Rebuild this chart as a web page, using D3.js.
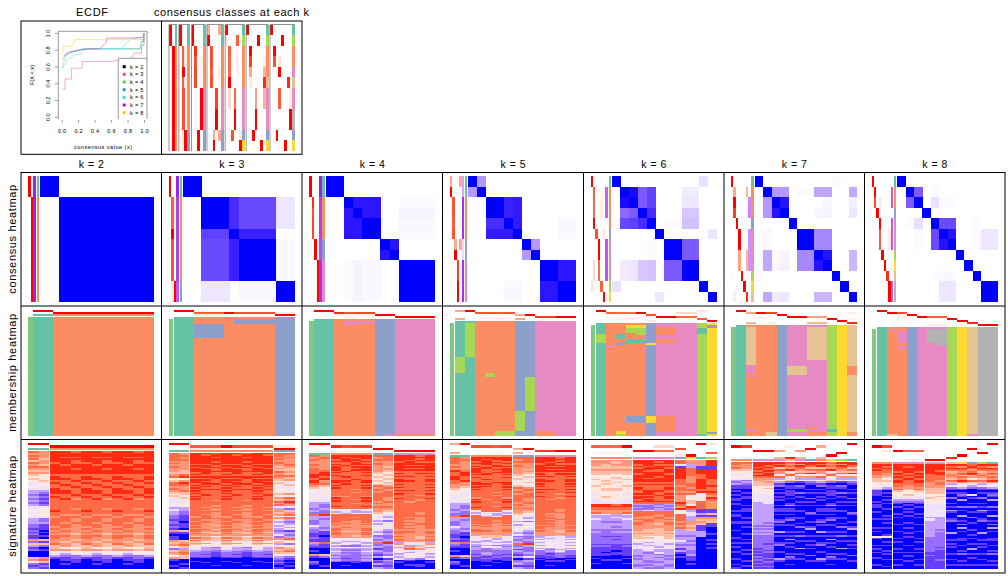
<!DOCTYPE html>
<html><head><meta charset="utf-8">
<script src="https://cdn.jsdelivr.net/npm/d3@7"></script>
<style>html,body{margin:0;background:#fff}svg{display:block}text{font-family:"Liberation Sans",Arial,sans-serif;fill:#000}</style>
</head><body><svg id="c" width="1008" height="576"></svg>
<script>
const kValues=[2,3,4,5,6,7,8];
const classColors=["#66C2A5","#FC8D62","#8DA0CB","#E78AC3","#A6D854","#FFD92F","#E5C494","#B3B3B3"];
const ecdfColors=["#000000","#DF536B","#61D04F","#2297E6","#28E2E5","#CD0BBC","#F5C710"];
const ecdfTicks=[0,0.2,0.4,0.6,0.8,1];
const ecdfK2=[[.98,.92],[1,.92]];
const ecdfK3=[[.01,.33],[.04,.33],[.04,.45],[.12,.45],[.12,.58],[.25,.58],[.25,.66],[.6,.66],[.85,.7],[.88,.76],[.97,.76],[.97,.85],[1,.85],[1,1]];
const ecdfK4=[[.01,.58],[.02,.64],[.06,.74],[.12,.77],[.26,.81],[.97,.81],[.98,.9],[1,.9],[1,1]];
const ecdfK5=[[.01,.68],[.05,.74],[.14,.78],[.26,.81],[.95,.81],[.97,.9],[1,.9],[1,1]];
const ecdfK6=[[.01,.56],[.02,.6],[.08,.68],[.16,.74],[.24,.75],[.26,.81],[.73,.81],[.76,.86],[.85,.93],[.99,.94],[1,1]];
const ecdfK7=[[.02,.72],[.08,.77],[.12,.78],[.34,.81],[.46,.81],[.54,.89],[.55,.94],[.85,.94],[.99,.95],[1,1]];
const ecdfK8=[[.01,.74],[.02,.84],[.13,.84],[.16,.92],[.99,.92],[1,1]];
const ecdfSeries=[ecdfK2,ecdfK3,ecdfK4,ecdfK5,ecdfK6,ecdfK7,ecdfK8];

const rowClasses=[
[1,1,2,2,2,2,2,2,2,2,2,2],[1,1,2,2,2,2,2,2,2,2,3,3],[1,1,2,2,2,2,3,3,4,4,4,4],[1,1,2,2,2,2,3,3,4,4,4,4],
[1,2,2,2,2,3,4,4,4,4,5,6],[1,2,2,2,3,4,4,4,4,5,6,7],[1,2,2,3,4,4,4,5,6,7,8,8]];
const silhouettes=[
[1,1,1,1,1,1,1,1,1,1,1,1],[1,1,.9,.9,.9,.9,.9,.9,.9,.9,.8,.8],[1,1,.9,.9,.9,.9,.85,.85,.95,.95,.95,.95],
[.45,.45,.95,.95,.95,.95,.2,.2,.95,.95,.95,.95],[0,.75,.75,.75,0,0,.8,.8,.8,.8,0,0],[0,0,.6,.6,0,.55,.55,.55,.55,0,0,0],
[0,.8,.8,0,.8,.8,.8,0,0,0,.8,.8]];
const probsK2=[[1,0],[1,0],[0,1],[0,1],[0,1],[0,1],[0,1],[0,1],[0,1],[0,1],[0,1],[0,1]];
const probsK3=[[1,0,0],[1,0,0],[0,.8,.1],[0,.8,.1],[0,.8,.1],[0,1,0],[0,.85,0],[0,.85,0],[0,.85,0],[0,.85,0],[0,.12,1],[0,.12,1]];
const probsK4=[[1,0,0,0],[1,0,0,0],[0,.95,0,.03],[0,.85,0,.08],[0,.88,0,.05],[0,.88,0,.05],[0,0,1,0],[0,0,1,0],[0,.03,0,1],[0,.03,0,1],[0,.03,0,1],[0,.03,0,1]];
const probsK5=[[.45,0,0,0,.45],[1,0,0,0,0],[0,.85,0,0,.02],[0,.85,0,0,.02],[0,.8,0,0,.08],[0,.85,0,0,.03],[0,0,.45,0,.45],[0,0,1,0,0],[0,0,0,.9,0],[0,0,0,.9,0],[0,0,0,1,0],[0,0,0,1,0]];
const probsK6=[[1,0,0,0,0,0],[0,.8,0,0,.05,0],[0,.75,0,0,.08,0],[0,.75,0,0,.08,0],[0,1,0,0,.03,0],[0,0,.85,0,0,.12],[0,0,0,1,0,0],[0,0,0,1,0,0],[0,.2,0,.75,0,0],[0,.2,0,.75,0,0],[.15,0,0,0,.8,0],[0,0,0,0,0,1]];
const probsK7=[[1,0,0,0,0,0,0],[0,.45,0,0,0,0,.4],[0,1,0,0,0,0,0],[0,.9,0,0,0,0,.08],[0,0,1,0,0,0,0],[0,0,0,1,0,0,0],[0,0,0,1,0,0,0],[0,0,0,.5,0,0,.4],[0,0,0,.5,0,0,.4],[.04,0,0,0,1,0,0],[0,0,0,0,0,1,0],[0,.1,0,0,.05,0,.95]];
const probsK8=[[1,0,0,0,0,0,0,0],[0,1,0,0,0,0,0,0],[0,.85,0,.12,0,0,0,0],[0,0,1,0,0,0,0,0],[0,0,0,1,0,0,0,0],[0,0,0,.8,0,0,0,.1],[0,0,0,.8,0,0,0,.1],[0,0,0,0,1,0,0,0],[0,0,0,0,0,1,0,0],[0,0,0,0,0,0,.95,0],[0,0,0,0,0,0,0,1],[0,0,0,0,0,0,0,1]];
const allProbs=[probsK2,probsK3,probsK4,probsK5,probsK6,probsK7,probsK8];
const classesOrder=[
[0,1,2,3,4,5,6,7,8,9,10,11],[0,1,2,3,5,4,6,7,8,9,10,11],[0,1,2,3,4,5,8,9,10,11,6,7],[0,1,2,3,4,5,8,9,10,11,6,7],
[0,10,1,2,3,4,8,9,6,7,5,11],[0,9,2,3,1,11,7,8,5,6,4,10],[0,7,1,2,4,9,5,6,10,11,3,8]];

const consensusBlocks=[[2,10],[2,3,1,4,2],[2,1,1,2,1,1,4],[1,1,2,1,1,1,1,2,2],[1,1,1,1,1,1,2,2,1,1],[1,1,1,1,1,2,1,1,1,1,1],[1,1,1,1,1,1,1,1,1,1,2]];
const consK2=[[1,0],[0,1]];
const consK3=[[1,0,0,0,0],[0,1,.75,.6,.1],[0,.65,1,.8,0],[0,.6,.8,1,.03],[0,.1,0,.03,1]];
const consK4=[[1,0,0,0,0,0,0],[0,1,.88,.88,0,0,.02],[0,.88,1,.88,0,0,.05],[0,.88,.88,1,0,0,.03],[0,0,0,0,1,.9,0],[0,0,0,0,.9,1,0],[0,.02,.05,.03,0,0,1]];
const consK5=[[1,.35,0,0,0,0,0,0,0],[.35,1,0,0,0,0,0,0,0],[0,0,1,.8,.85,0,0,0,0],[0,0,.75,1,.85,0,0,0,.03],[0,0,.85,.85,1,0,0,0,.03],[0,0,0,0,0,1,.35,0,0],[0,0,0,0,0,.35,1,0,0],[0,0,0,0,0,0,0,1,.88],[0,0,0,.03,.03,0,0,.88,1]];
const consK6=[[1,0,0,0,0,0,0,0,.12,0],[0,1,.95,.55,.65,0,0,.08,0,0],[0,.95,1,.55,.65,0,0,.1,0,0],[0,.5,.55,1,.75,0,0,.2,0,0],[0,.62,.65,.75,1,0,.02,.22,0,0],[0,0,0,0,0,1,0,0,0,.1],[0,0,0,0,.02,0,1,.55,0,0],[0,.08,.1,.2,.22,0,.55,1,0,0],[.12,0,0,0,0,0,0,0,1,0],[0,0,0,0,0,.1,0,0,0,1]];
const consK7=[[1,0,0,0,0,0,0,0,.02,0,0],[0,1,.35,.35,0,.02,.3,.3,0,0,.3],[0,.35,1,.9,0,0,0,.03,0,0,.06],[0,.35,.9,1,0,0,.04,.05,0,0,.1],[0,0,0,0,1,0,0,0,0,0,0],[0,.03,0,0,0,1,.4,.4,0,0,0],[0,.3,.02,.05,0,.4,1,.9,0,0,.25],[0,.3,.03,.06,0,.4,.9,1,0,0,.25],[.02,0,0,0,0,0,0,0,1,0,0],[0,0,0,0,0,0,0,0,0,1,0],[0,.3,.08,.1,0,0,.25,.25,0,0,1]];
const consK8=[[1,0,0,0,0,0,0,0,0,0,0],[0,1,.55,0,.02,0,0,0,0,0,0],[0,.55,1,0,.12,.02,.02,0,0,0,0],[0,0,0,1,0,0,0,0,0,0,0],[0,.02,.12,0,1,.6,.6,0,0,.02,0],[0,0,.02,0,.6,1,.9,0,0,.02,.1],[0,0,.02,0,.6,.9,1,0,0,.02,.1],[0,0,0,0,0,0,0,1,0,0,0],[0,0,0,0,0,0,0,0,1,0,0],[0,0,0,0,.02,.03,.03,0,0,1,0],[0,0,0,0,0,.1,.1,0,0,0,1]];
const allCons=[consK2,consK3,consK4,consK5,consK6,consK7,consK8];

// membership deviations: first column, last column, share from, share to, class
const memberK2=[];
const memberK3=[[2,4,4,16,3],[6,9,0,4,3]];
const memberK4=[[3,3,0,3.5,4],[4,5,0,2,4],[7,7,98,100,4],[8,11,98,100,2]];
const memberK5=[[0,0,29.5,44,5],[1,1,0,29.5,5],[3,3,44,48,5],[7,7,48,78,5],[6,6,78,95.5,5],[4,5,95.5,100,5],[8,9,95.5,100,2]];
const memberK6=[[0,0,0,8,1],[0,0,8,16,5],[1,1,18,20,4],[2,2,8,12,1],[2,2,16,18,3],[2,2,95.5,98,6],[2,2,98,100,5],[3,4,0,2,6],[3,3,2,6.7,5],[4,4,2,8.5,5],[3,4,12,16,1],[3,4,82,88,3],[5,5,16,18,6],[5,5,82,88,6],[6,7,1.8,8.5,2],[6,7,12,16,2],[6,7,82,96,2],[10,10,2,8,1],[10,10,98,100,1],[11,11,0,2,3],[11,11,96,98,3]];
const memberK7=[[1,1,0,35,7],[1,1,35,42,4],[1,1,44,46,4],[1,1,94,96.5,4],[3,3,96.5,100,7],[5,6,35.5,44,7],[5,6,93.5,96.5,5],[7,8,0,30,7],[7,7,91.5,93.5,2],[7,8,96.5,100,2],[9,9,94,96.5,1],[11,11,35.5,44,2],[11,11,96.5,100,2]];
const memberK8=[[1,1,0,2,4],[1,1,98,100,7],[2,2,2,13.3,4],[2,2,16,18,4],[5,5,0,13.3,8],[6,6,0,16,8],[9,9,98,100,4]];
const allMember=[memberK2,memberK3,memberK4,memberK5,memberK6,memberK7,memberK8];

const sigOrder=[
[[0,1],[2,3,4,5,6,7,8,9,10,11]],[[0,1],[2,3,4,5,6,7,8,9],[10,11]],[[0,1],[2,3,4,5],[6,7],[8,9,10,11]],[[0,1],[2,3,4,5],[6,7],[8,9,10,11]],
[[1,2,3,4],[6,7,8,9],[5,11,0,10]],[[2,3],[5,6],[7,11,8,4,1,10,9,0]],[[1,2],[4,5,6],[10,11],[9,8,3,7,0]]];

// signature rows: one character per row, 0 = blue, 9 = red
const sigK2=[
["878786878767656544543323232344545433322121211726312000675212","777767768767555655443212121245555422311101010616201000786121"],
["999999899999899898899989888888988788887878788778667543100000","999899989999889889889988988888887888788787787767757432110100","899898899899888988988898788887887877877777677676656542211000"]];
const sigK3=[
["888878787767856887876565445434332212212171011767526765710010","787877777668957987786656545533221110111061000678637876600101"],
["999999998989998989899989898989898988888888888878878878788787686867654433222100100000","989999998998999889898998989888988888888787887888788777787677677657543332212100010000","899899899898898889988898889888888878887877877778777767767667566645542322111000000100"],
["887878767687876565455465768384376747434343234275634767653212101","878777876676867546445575879274267848323434132386525678642101010"]];
const sigK4=[
["878787888998987655445433323283322432211217210107102100","787777789989786554554432232293233323110118110006200010"],
["999898989998989888998989888887989888984534888888787788788774543534334332323200000","989998898889888988989888888887888888885443888887877877677774434425323232212100100","998989989898888889888888787888878878884335887877777777677674434324323222222110000"],
["878787777656565687878888787877654535345434232382313213021313","888777676565656478788877877876543425454323223293222324132212"],
["999989999989898998989898988988888888888888888887887878737474543534010000","999899898988898898888898888887888888888787878787877777744738435453100100","898989898989888888888888878878888888778777787777777667744647454542000110"]];
const sigK5=[
["888787988998877655445433323283322432211217210107102100","787777899889776554554432232293233323110118110006200010"],
["999898989998989888998989888887989888984534888888787788773545434323322212111000000","989998898889888988989888888887888888885443888887877877664434435222332121100100","998989989898888889888888787888878878884335887877777777663343424332221211010000"],
["878787777656545687878888787877654535345434232382313213023313","888777676564565478788877877876543425454323223293222324132212"],
["999989999989898998989898988988888888888888888887887877734353435342221101000000","999899898988898898888898888887888888888787878787877777743444545323212110100100","898989898989888888888888878878888888778777787777777667644445454434322200100000"]];
const sigK6=[
["777766766655655565555545444499887843343333332322222221211111101001000","777666766655565655665556554499887743333233332222122221211101100100000","766766766556556554665555454489887733433233232322121221111011000100000"],
["999898999899999898998898998983232388887878877776766655434443333232333223","999989989999899898889998989983222488877887777766765655343444323333223232","989899889998999898889889888982323388778777677666665554444353342323323322"],
["8841999998887887877798795588878783332343231310100000","7733888877788787845664983443377676332323233223110100","7771199888999998945558888113176761113330000000000000000","9991199999888988987987777116176611000100101010000000000"]];
const sigK7=[
["887865545432311010101101000101100110001000100101001000100101","877765455423211001011000101100010110100010010100010100010010"],
["999898989877666555544444433333333333333232323222222221212121212121","998989899876766565554444443333333333323232323222221222121112121121"],
["989687748353120101010100101101001201000301000120001000310000","878795685462011011101001301101012001000101030101000102100100","979876847351021002010010100100010010200102001000300100100000","998686957342100101002010100021000100130001001010100020010000"]];
const sigK8=[
["998988776655543111000101100100010000101005100010101001000100","989887765655432010101010010001010100100015001010010100100010"],
["999989898998878655443210100010100010001000101000101000100100","989998989888776556543201010101000100100101000010001010010000"],
["999999888887777666655655544444444344333333333322222222211211111111","999989988878877666656555544445444333333332322222222212111111211111"],
["989867876863421010020010103100012000000300010101000100100100","979878687974531012103000201003001020301000110010010200010100","898789675864320004010010200100200100010010100100300101000100"]];
const allSig=[sigK2,sigK3,sigK4,sigK5,sigK6,sigK7,sigK8];
const sigLevels=[-1,-.82,-.62,-.4,-.12,.12,.35,.55,.74,.95];

const mainLabels=["consensus heatmap","membership heatmap","signature heatmap"];

// ---- drawing ----
const svg=d3.select("#c");
const gridX=[21,161.5,302,442.5,583.5,724,864.5,1005];
const gridY=[172.5,306,439.5,573];
const white2blue=d3.scaleLinear([0,.1,.35,.6,.8,1],["#ffffff","#eee6ff","#b498ff","#6a4aff","#3a20ff","#0000ff"]).interpolate(d3.interpolateLab);
const white2red=d3.scaleLinear([0,1],["#ffffff","#ff0000"]).interpolate(d3.interpolateLab);
const white2purple=d3.scaleLinear([0,1],["#ffffff","#a020f0"]).interpolate(d3.interpolateLab);
const sigScale=d3.scaleLinear([-1,0,1],["#0000ff","#ffffff","#ff0000"]).interpolate(d3.interpolateLab);
const sigColor=d=>sigScale(sigLevels[d]);
const classColor=c=>classColors[c-1];
const idx=d3.range(12);
const cell=(g,x,y,w,h,fill)=>g.append("rect").attr("x",x).attr("y",y).attr("width",w).attr("height",h).attr("fill",fill).attr("shape-rendering","crispEdges");
function expand(blocks){return blocks.flatMap((n,i)=>d3.range(n).map(()=>i));}

// ---- consensus classes panel ----
{
 const g=svg.append("g");
 const y=d3.scaleBand(idx,[24.5,151]);
 const total=d3.sum(kValues,k=>k+1)+(kValues.length-1)*0.55;
 const x=d3.scaleLinear([0,total],[169,295]);
 let pos=0;
 kValues.forEach((k,ki)=>{
  const start=pos;
  classesOrder[ki].forEach((s,r)=>{
   allProbs[ki][s].forEach((p,j)=>{ if(p>0) cell(g,x(start+j),y(r),x(1)-x(0)+.1,y.bandwidth()+.1,white2red(p)); });
   cell(g,x(start+k),y(r),x(1)-x(0)+.1,y.bandwidth()+.1,classColor(rowClasses[ki][s]));
  });
  g.append("path").attr("d",`M${x(start)},151V24.5H${x(start+k+1)}`).attr("fill","none").attr("stroke","#777").attr("stroke-width",.8);
  pos+=k+1.55;
 });
}

// ---- ECDF ----
{
 const x=d3.scaleLinear([0,1],[61.7,144]);
 const y=d3.scaleLinear([0,1],[116.7,33]);
 const line=d3.line().x(d=>x(d[0])).y(d=>y(d[1]));
 const g=svg.append("g");
 ecdfSeries.forEach((s,i)=>g.append("path").attr("d",line(s)).attr("fill","none").attr("stroke",ecdfColors[i]).attr("stroke-width",.45));
 g.append("rect").attr("x",118.3).attr("y",58.3).attr("width",28.7).attr("height",60.7).attr("fill","#fff");
 g.append("path").attr("d","M118.3,119V58.3H147M58.3,119V31.3H147V119").attr("fill","none").attr("stroke","#333").attr("stroke-width",.5);
 const ax=g.append("g").attr("transform","translate(0,120)").call(d3.axisBottom(x).tickValues(ecdfTicks).tickSize(3).tickFormat(d3.format(".1f")));
 ax.select(".domain").remove();
 ax.selectAll("line").attr("stroke","#444").attr("stroke-width",.5);
 ax.selectAll("text").attr("y",9).attr("font-size",5.6).attr("font-family","Liberation Sans").attr("letter-spacing",.25).attr("fill","#222");
 const ay=g.append("g").attr("transform","translate(58,0)").call(d3.axisLeft(y).tickValues(ecdfTicks).tickSize(3).tickFormat(d3.format(".1f")));
 ay.select(".domain").remove();
 ay.selectAll("line").attr("stroke","#444").attr("stroke-width",.5);
 ay.selectAll("text").attr("x",null).attr("dy",null).attr("font-size",5.6).attr("font-family","Liberation Sans").attr("text-anchor","middle").attr("fill","#222").attr("transform","translate(-8.5,0) rotate(-90)");
 g.append("text").attr("x",103).attr("y",148.5).attr("text-anchor","middle").attr("font-size",5.6).attr("textLength",58).attr("fill","#222").text("consensus value (x)");
 g.append("text").attr("transform","translate(34,75) rotate(-90)").attr("text-anchor","middle").attr("font-size",5.6).attr("fill","#222").text("F(X < x)");
 const ly=d3.scalePoint(kValues,[66.7,112.7]);
 kValues.forEach((k,i)=>{
  g.append("rect").attr("x",122.7).attr("y",ly(k)-1.5).attr("width",3).attr("height",3).attr("fill",ecdfColors[i]);
  g.append("text").attr("x",130).attr("y",ly(k)+2).attr("font-size",5.6).attr("letter-spacing",.3).attr("fill","#222").text(`k = ${k}`);
 });
}

// ---- consensus heatmaps ----
kValues.forEach((k,ki)=>{
 const g=svg.append("g");
 const left=gridX[ki];
 const heatL=left+19+ki*2.3, heatR=left+133.2, annL=left+7;
 const y=d3.scaleBand(idx,[176,302]);
 const hx=d3.scaleBand(idx,[heatL,heatR]);
 const annX=d3.scaleBand(d3.range(k+1),[annL,heatL-4]);
 const map=expand(consensusBlocks[ki]);
 idx.forEach(r=>{
  allProbs[ki][r].forEach((p,j)=>{ if(p>0) cell(g,annX(j),y(r),annX.bandwidth()+.05,y.bandwidth()+.1,white2red(p)); });
  if(silhouettes[ki][r]>0) cell(g,annX(k),y(r),annX.bandwidth(),y.bandwidth()+.1,white2purple(silhouettes[ki][r]));
  cell(g,heatL-3.2,y(r),2.2,y.bandwidth()+.1,classColor(rowClasses[ki][r]));
  idx.forEach(c=>{
   const v=allCons[ki][map[r]][map[c]];
   if(v>0) cell(g,hx(c),y(r),hx.bandwidth()+.1,y.bandwidth()+.1,white2blue(v));
  });
 });
});

// ---- membership heatmaps ----
kValues.forEach((k,ki)=>{
 const g=svg.append("g");
 const left=gridX[ki];
 const mx=d3.scaleBand(idx,[left+12.2,left+133.2]);
 const pH=2, pTop=310;
 const pY=d3.scaleBand(d3.range(k),[pTop,pTop+pH*k]);
 const classTop=pTop+pH*k+(k===2?0:0.7);
 const top=classTop+2.6;
 const share=d3.scaleLinear([0,100],[top,436]);
 cell(g,left+7,top,4.6,436-top,"#7FC97F");
 idx.forEach(c=>{
  allProbs[ki][c].forEach((p,j)=>{ if(p>0) cell(g,mx(c),pY(j),mx.bandwidth()+.1,pH+.05,white2red(p)); });
  cell(g,mx(c),classTop,mx.bandwidth()+.1,2,classColor(rowClasses[ki][c]));
  cell(g,mx(c),top,mx.bandwidth()+.1,436-top,classColor(rowClasses[ki][c]));
 });
 allMember[ki].forEach(([a,b,from,to,cl])=>{
  cell(g,mx(a),share(from),mx(b)+mx.bandwidth()-mx(a)+.1,share(to)-share(from),classColor(cl));
 });
});

// ---- signature heatmaps ----
kValues.forEach((k,ki)=>{
 const g=svg.append("g");
 const left=gridX[ki];
 const groups=sigOrder[ki];
 const gap=.9, L=left+7.1, R=left+133.2;
 const cw=(R-L-gap*(groups.length-1))/12;
 const pH=2.25,pTop=443;
 const pY=d3.scaleBand(d3.range(k),[pTop,pTop+pH*k]);
 const classTop=pTop+pH*k+.5;
 const top=classTop+2.6, bottom=569;
 let px=L;
 groups.forEach((samples,gi)=>{
  const strs=allSig[ki][gi];
  samples.forEach((s,c)=>{
   const x=px+c*cw;
   allProbs[ki][s].forEach((p,j)=>{ if(p>0) cell(g,x,pY(j),cw+.1,pH+.05,white2red(p)); });
   cell(g,x,classTop,cw+.1,2,classColor(rowClasses[ki][s]));
   const str=strs[c%strs.length];
   const y=d3.scaleBand(d3.range(str.length),[top,bottom]);
   Array.from(str).forEach((ch,r)=>cell(g,x,y(r),cw+.1,y.bandwidth()+.1,sigColor(+ch)));
  });
  px+=samples.length*cw+gap;
 });
});

// ---- frames and labels ----
const frame=svg.append("g").attr("fill","none").attr("stroke","#000").attr("stroke-width",1);
frame.append("rect").attr("x",gridX[0]).attr("y",21).attr("width",gridX[2]-gridX[0]).attr("height",133.3);
frame.append("line").attr("x1",gridX[1]).attr("x2",gridX[1]).attr("y1",21).attr("y2",154.3);
frame.append("rect").attr("x",gridX[0]).attr("y",gridY[0]).attr("width",gridX[7]-gridX[0]).attr("height",gridY[3]-gridY[0]);
gridX.slice(1,7).forEach(x=>frame.append("line").attr("x1",x).attr("x2",x).attr("y1",gridY[0]).attr("y2",gridY[3]));
gridY.slice(1,3).forEach(y=>frame.append("line").attr("x1",gridX[0]).attr("x2",gridX[7]).attr("y1",y).attr("y2",y));

const t=svg.append("g").attr("text-anchor","middle").attr("font-size",11);
t.append("text").attr("x",92).attr("y",16).attr("textLength",32).text("ECDF");
t.append("text").attr("x",231.5).attr("y",16).attr("textLength",155).text("consensus classes at each k");
kValues.forEach((k,i)=>t.append("text").attr("x",(gridX[i]+gridX[i+1])/2).attr("y",168).attr("font-size",10.5).attr("textLength",25).text(`k = ${k}`));
mainLabels.forEach((s,i)=>t.append("text").attr("transform",`translate(16,${(gridY[i]+gridY[i+1])/2}) rotate(-90)`).attr("font-size",11).attr("textLength",[109,118,101][i]).text(s));
</script></body></html>
